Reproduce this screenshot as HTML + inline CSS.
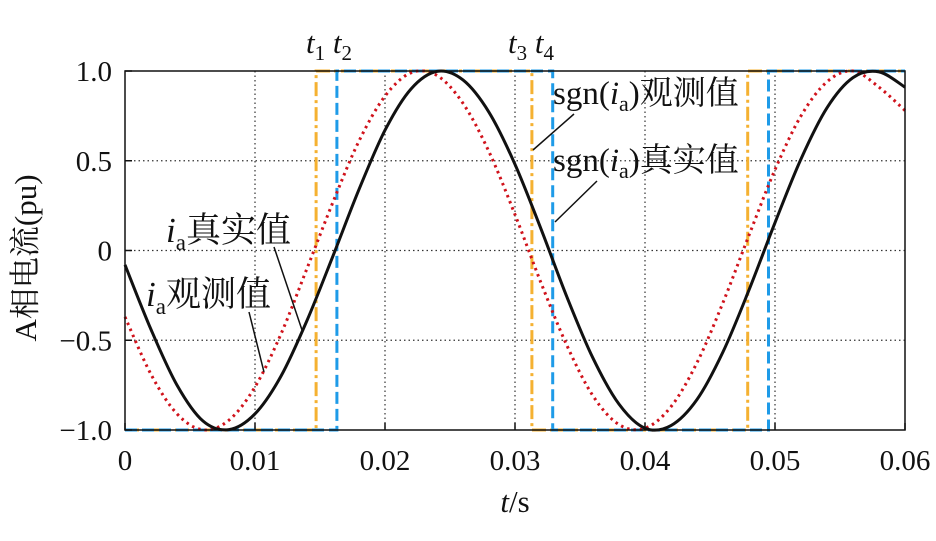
<!DOCTYPE html>
<html><head><meta charset="utf-8"><style>
html,body{margin:0;padding:0;background:#fff;}
svg{display:block;}
text{font-family:"Liberation Serif","Noto Serif CJK SC","Noto Sans CJK SC",serif;fill:#111;}
</style></head><body>
<svg id="chart" width="936" height="541" viewBox="0 0 936 541">
<g id="grid"></g>
<g id="series"></g>
<g id="axes"></g>
<g id="annot">
<text x="306" y="53" font-size="31"><tspan font-style="italic">t</tspan><tspan font-size="21" dy="7">1</tspan><tspan dy="-7" font-style="italic"> t</tspan><tspan font-size="21" dy="7">2</tspan></text>
<text x="508" y="53" font-size="31"><tspan font-style="italic">t</tspan><tspan font-size="21" dy="7">3</tspan><tspan dy="-7" font-style="italic"> t</tspan><tspan font-size="21" dy="7">4</tspan></text>
<text x="553" y="104" font-size="33">sgn(<tspan font-style="italic">i</tspan><tspan font-size="22" dy="7">a</tspan><tspan dy="-7">)观测值</tspan></text>
<text x="553" y="171" font-size="33">sgn(<tspan font-style="italic">i</tspan><tspan font-size="22" dy="7">a</tspan><tspan dy="-7">)真实值</tspan></text>
<text x="166" y="242" font-size="35"><tspan font-style="italic">i</tspan><tspan font-size="23" dy="8">a</tspan><tspan dy="-8">真实值</tspan></text>
<text x="146" y="306" font-size="35"><tspan font-style="italic">i</tspan><tspan font-size="23" dy="8">a</tspan><tspan dy="-8">观测值</tspan></text>
<line x1="574" y1="114" x2="533" y2="150" stroke="#111" stroke-width="1.5"/>
<line x1="597" y1="181" x2="555" y2="222" stroke="#111" stroke-width="1.5"/>
<line x1="274" y1="247" x2="302" y2="330" stroke="#111" stroke-width="1.5"/>
<line x1="249" y1="312" x2="264" y2="372" stroke="#111" stroke-width="1.5"/>
</g>
</svg>
<script>
const times=[0,0.002,0.004,0.006,0.008,0.010,0.012,0.014,0.016,0.018,0.020,0.022,0.024,0.026,0.028,0.030,0.032,0.034,0.036,0.038,0.040,0.042,0.044,0.046,0.048,0.050,0.052,0.054,0.056,0.058,0.060];
const trueCurrent=[-0.08,-0.44,-0.75,-0.95,-0.998,-0.91,-0.70,-0.39,-0.03,0.34,0.67,0.90,0.998,0.95,0.77,0.48,0.12,-0.26,-0.60,-0.856,-0.99,-0.975,-0.83,-0.565,-0.22,0.155,0.51,0.795,0.963,0.995,0.91];
const observedCurrent=[-0.37,-0.69,-0.91,-0.999,-0.945,-0.76,-0.465,-0.10,0.27,0.61,0.86,0.99,0.975,0.82,0.55,0.20,-0.18,-0.53,-0.81,-0.97,-0.99,-0.87,-0.625,-0.29,0.085,0.45,0.75,0.94,1.000,0.91,0.78];
const sgnTrueEdges=[0.0163,0.0329,0.0495];
const sgnObservedEdges=[0.0147,0.0313,0.0479];
const sgnStart=-1;
const xTicks=[0,0.01,0.02,0.03,0.04,0.05,0.06];
const xTickLabels=["0","0.01","0.02","0.03","0.04","0.05","0.06"];
const yTicks=[1,0.5,0,-0.5,-1];
const yTickLabels=["1.0","0.5","0","\u22120.5","\u22121.0"];

const X0=125,X1=905,Y0=430,Y1=71;
const xs=t=>X0+(t-0)/(0.06)*(X1-X0);
const ys=v=>Y0-(v+1)/2*(Y0-Y1);
const NS="http://www.w3.org/2000/svg";
function mk(tag,parent,attrs){const e=document.createElementNS(NS,tag);for(const k in attrs)e.setAttribute(k,attrs[k]);parent.appendChild(e);return e;}
const grid=document.getElementById('grid'),series=document.getElementById('series'),axes=document.getElementById('axes');

xTicks.forEach((t,i)=>{
 if(i>0&&i<xTicks.length-1){const l=mk('line',grid,{x1:xs(t),x2:xs(t),y1:Y1,y2:Y0,stroke:'#333','stroke-width':1.2,'stroke-dasharray':'1.5 3'});
 
 }
 const tx=mk('text',axes,{x:xs(t),y:Y0+40,'font-size':29,'text-anchor':'middle'});tx.textContent=xTickLabels[i];
 
 
 const tk=mk('line',axes,{x1:xs(t),x2:xs(t),y1:Y0,y2:Y0-7,stroke:'#111','stroke-width':1.5});
 
 
});
yTicks.forEach((v,i)=>{
 if(v!==1&&v!==-1){const l=mk('line',grid,{x1:X0,x2:X1,y1:ys(v),y2:ys(v),stroke:'#333','stroke-width':1.2,'stroke-dasharray':'1.5 3'});
 
 }
 const tx=mk('text',axes,{x:X0-13,y:ys(v)+10,'font-size':29,'text-anchor':'end'});tx.textContent=yTickLabels[i];
 
 
 const tk=mk('line',axes,{x1:X0,x2:X0+7,y1:ys(v),y2:ys(v),stroke:'#111','stroke-width':1.5});
 
 
});
const fr=mk('rect',axes,{x:X0,y:Y1,width:X1-X0,height:Y0-Y1,fill:'none',stroke:'#111','stroke-width':1.5});


const xl=mk('text',axes,{x:515,y:512,'font-size':31,'text-anchor':'middle'});xl.innerHTML='<tspan font-style="italic">t</tspan>/s';


const yl=mk('text',axes,{x:0,y:0,'font-size':31,'text-anchor':'middle',transform:'translate(36,258) rotate(-90)'});yl.textContent='A相电流(pu)';



function smooth(tv,vv){const p=tv.map((t,i)=>[xs(t),ys(vv[i])]);let d=`M${p[0][0]},${p[0][1]}`;
 for(let i=0;i<p.length-1;i++){const a=p[i-1]||p[i],b=p[i],c=p[i+1],e=p[i+2]||c;
 d+=` C${b[0]+(c[0]-a[0])/6},${b[1]+(c[1]-a[1])/6} ${c[0]-(e[0]-b[0])/6},${c[1]-(e[1]-b[1])/6} ${c[0]},${c[1]}`;}return d;}
function square(edges){let lv=sgnStart,d=`M${xs(0)},${ys(lv)}`;edges.forEach(t=>{d+=` L${xs(t)},${ys(lv)}`;lv=-lv;d+=` L${xs(t)},${ys(lv)}`;});d+=` L${xs(0.06)},${ys(lv)}`;return d;}

const sq1=mk('path',series,{d:square(sgnObservedEdges),fill:'none',stroke:'#f5b131','stroke-width':3,'stroke-dasharray':'14 4 3 4'});


const sq2=mk('path',series,{d:square(sgnTrueEdges),fill:'none',stroke:'#1e9be8','stroke-width':3,'stroke-dasharray':'12 5'});


const rc=mk('path',series,{d:smooth(times,observedCurrent),fill:'none',stroke:'#d0121b','stroke-width':3,'stroke-dasharray':'2.5 4'});


const bc=mk('path',series,{d:smooth(times,trueCurrent),fill:'none',stroke:'#111','stroke-width':3});


</script>
</body></html>
